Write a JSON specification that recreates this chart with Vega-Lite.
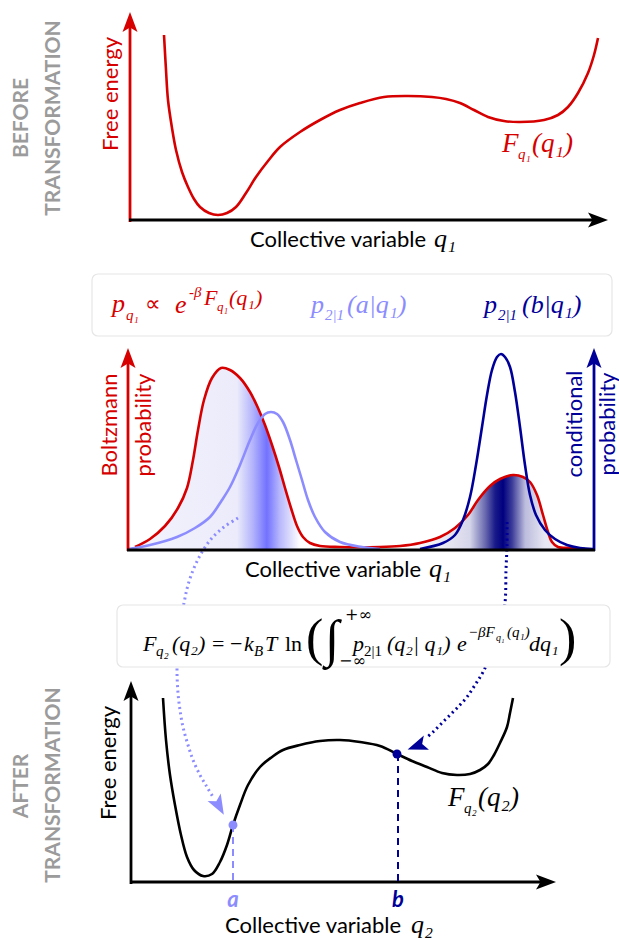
{
  "$schema": "https://vega.github.io/schema/vega-lite/v6.json",
  "width": 619,
  "height": 938,
  "autosize": {"type": "fit", "contains": "padding"},
  "padding": 0,
  "background": "white",
  "config": {"view": {"stroke": null}},
  "datasets": {
    "curves": [
      {"c":"topF","g":"boltz","i":1,"x":164,"y":35},{"c":"topF","g":"boltz","i":2,"x":166,"y":70},{"c":"topF","g":"boltz","i":3,"x":168,"y":100},{"c":"topF","g":"boltz","i":4,"x":172,"y":128},{"c":"topF","g":"boltz","i":5,"x":176,"y":150},{"c":"topF","g":"boltz","i":6,"x":182,"y":172},{"c":"topF","g":"boltz","i":7,"x":188,"y":187},{"c":"topF","g":"boltz","i":8,"x":194,"y":199},{"c":"topF","g":"boltz","i":9,"x":200,"y":207},{"c":"topF","g":"boltz","i":10,"x":209,"y":213},{"c":"topF","g":"boltz","i":11,"x":218,"y":215},{"c":"topF","g":"boltz","i":12,"x":227,"y":213},{"c":"topF","g":"boltz","i":13,"x":236,"y":207},{"c":"topF","g":"boltz","i":14,"x":246,"y":193},{"c":"topF","g":"boltz","i":15,"x":256,"y":177},{"c":"topF","g":"boltz","i":16,"x":268,"y":161},{"c":"topF","g":"boltz","i":17,"x":280,"y":147},{"c":"topF","g":"boltz","i":18,"x":300,"y":132},{"c":"topF","g":"boltz","i":19,"x":320,"y":120},{"c":"topF","g":"boltz","i":20,"x":340,"y":110},{"c":"topF","g":"boltz","i":21,"x":360,"y":103},{"c":"topF","g":"boltz","i":22,"x":384,"y":97},{"c":"topF","g":"boltz","i":23,"x":408,"y":96},{"c":"topF","g":"boltz","i":24,"x":432,"y":97},{"c":"topF","g":"boltz","i":25,"x":446,"y":99},{"c":"topF","g":"boltz","i":26,"x":460,"y":103},{"c":"topF","g":"boltz","i":27,"x":474,"y":110},{"c":"topF","g":"boltz","i":28,"x":488,"y":117},{"c":"topF","g":"boltz","i":29,"x":504,"y":121},{"c":"topF","g":"boltz","i":30,"x":520,"y":122},{"c":"topF","g":"boltz","i":31,"x":544,"y":120},{"c":"topF","g":"boltz","i":32,"x":558,"y":115},{"c":"topF","g":"boltz","i":33,"x":568,"y":107},{"c":"topF","g":"boltz","i":34,"x":578,"y":93},{"c":"topF","g":"boltz","i":35,"x":588,"y":73},{"c":"topF","g":"boltz","i":36,"x":594,"y":55},{"c":"topF","g":"boltz","i":37,"x":598,"y":38},

      {"c":"boltz","g":"boltz","i":1,"x":135,"y":547},{"c":"boltz","g":"boltz","i":2,"x":150,"y":539},{"c":"boltz","g":"boltz","i":3,"x":165,"y":526},{"c":"boltz","g":"boltz","i":4,"x":178,"y":508},{"c":"boltz","g":"boltz","i":5,"x":187,"y":488},{"c":"boltz","g":"boltz","i":6,"x":193,"y":460},{"c":"boltz","g":"boltz","i":7,"x":198,"y":430},{"c":"boltz","g":"boltz","i":8,"x":204,"y":400},{"c":"boltz","g":"boltz","i":9,"x":212,"y":378},{"c":"boltz","g":"boltz","i":10,"x":221,"y":368},{"c":"boltz","g":"boltz","i":11,"x":230,"y":370},{"c":"boltz","g":"boltz","i":12,"x":240,"y":378},{"c":"boltz","g":"boltz","i":13,"x":250,"y":392},{"c":"boltz","g":"boltz","i":14,"x":258,"y":408},{"c":"boltz","g":"boltz","i":15,"x":265,"y":425},{"c":"boltz","g":"boltz","i":16,"x":272,"y":445},{"c":"boltz","g":"boltz","i":17,"x":279,"y":467},{"c":"boltz","g":"boltz","i":18,"x":285,"y":488},{"c":"boltz","g":"boltz","i":19,"x":291,"y":508},{"c":"boltz","g":"boltz","i":20,"x":297,"y":526},{"c":"boltz","g":"boltz","i":21,"x":303,"y":537},{"c":"boltz","g":"boltz","i":22,"x":310,"y":543},{"c":"boltz","g":"boltz","i":23,"x":320,"y":546},{"c":"boltz","g":"boltz","i":24,"x":340,"y":547},{"c":"boltz","g":"boltz","i":25,"x":380,"y":547},{"c":"boltz","g":"boltz","i":26,"x":400,"y":546},{"c":"boltz","g":"boltz","i":27,"x":420,"y":543},{"c":"boltz","g":"boltz","i":28,"x":440,"y":537},{"c":"boltz","g":"boltz","i":29,"x":455,"y":528},{"c":"boltz","g":"boltz","i":30,"x":468,"y":515},{"c":"boltz","g":"boltz","i":31,"x":478,"y":500},{"c":"boltz","g":"boltz","i":32,"x":490,"y":486},{"c":"boltz","g":"boltz","i":33,"x":500,"y":479},{"c":"boltz","g":"boltz","i":34,"x":513,"y":475},{"c":"boltz","g":"boltz","i":35,"x":523,"y":477},{"c":"boltz","g":"boltz","i":36,"x":530,"y":482},{"c":"boltz","g":"boltz","i":37,"x":537,"y":495},{"c":"boltz","g":"boltz","i":38,"x":543,"y":515},{"c":"boltz","g":"boltz","i":39,"x":548,"y":532},{"c":"boltz","g":"boltz","i":40,"x":552,"y":542},{"c":"boltz","g":"boltz","i":41,"x":558,"y":547},{"c":"boltz","g":"boltz","i":42,"x":570,"y":548},{"c":"boltz","g":"boltz","i":43,"x":585,"y":549},

      {"c":"pa","g":"condA","i":1,"x":128,"y":549},{"c":"pa","g":"condA","i":2,"x":150,"y":545},{"c":"pa","g":"condA","i":3,"x":177,"y":537},{"c":"pa","g":"condA","i":4,"x":195,"y":528},{"c":"pa","g":"condA","i":5,"x":210,"y":517},{"c":"pa","g":"condA","i":6,"x":222,"y":500},{"c":"pa","g":"condA","i":7,"x":230,"y":487},{"c":"pa","g":"condA","i":8,"x":240,"y":465},{"c":"pa","g":"condA","i":9,"x":250,"y":440},{"c":"pa","g":"condA","i":10,"x":258,"y":423},{"c":"pa","g":"condA","i":11,"x":265,"y":414},{"c":"pa","g":"condA","i":12,"x":271,"y":412},{"c":"pa","g":"condA","i":13,"x":277,"y":414},{"c":"pa","g":"condA","i":14,"x":283,"y":422},{"c":"pa","g":"condA","i":15,"x":290,"y":440},{"c":"pa","g":"condA","i":16,"x":296,"y":460},{"c":"pa","g":"condA","i":17,"x":302,"y":480},{"c":"pa","g":"condA","i":18,"x":308,"y":500},{"c":"pa","g":"condA","i":19,"x":315,"y":517},{"c":"pa","g":"condA","i":20,"x":325,"y":532},{"c":"pa","g":"condA","i":21,"x":340,"y":542},{"c":"pa","g":"condA","i":22,"x":362,"y":547},{"c":"pa","g":"condA","i":23,"x":380,"y":549},

      {"c":"pb","g":"condB","i":1,"x":420,"y":549},{"c":"pb","g":"condB","i":2,"x":443,"y":543},{"c":"pb","g":"condB","i":3,"x":455,"y":535},{"c":"pb","g":"condB","i":4,"x":463,"y":520},{"c":"pb","g":"condB","i":5,"x":470,"y":497},{"c":"pb","g":"condB","i":6,"x":476,"y":465},{"c":"pb","g":"condB","i":7,"x":482,"y":427},{"c":"pb","g":"condB","i":8,"x":487,"y":395},{"c":"pb","g":"condB","i":9,"x":492,"y":370},{"c":"pb","g":"condB","i":10,"x":497,"y":357},{"c":"pb","g":"condB","i":11,"x":501,"y":354},{"c":"pb","g":"condB","i":12,"x":505,"y":357},{"c":"pb","g":"condB","i":13,"x":510,"y":367},{"c":"pb","g":"condB","i":14,"x":515,"y":392},{"c":"pb","g":"condB","i":15,"x":520,"y":427},{"c":"pb","g":"condB","i":16,"x":525,"y":465},{"c":"pb","g":"condB","i":17,"x":530,"y":495},{"c":"pb","g":"condB","i":18,"x":536,"y":515},{"c":"pb","g":"condB","i":19,"x":545,"y":530},{"c":"pb","g":"condB","i":20,"x":555,"y":539},{"c":"pb","g":"condB","i":21,"x":567,"y":545},{"c":"pb","g":"condB","i":22,"x":580,"y":548},{"c":"pb","g":"condB","i":23,"x":593,"y":549},

      {"c":"botF","g":"ink","i":1,"x":163,"y":698},{"c":"botF","g":"ink","i":2,"x":166,"y":740},{"c":"botF","g":"ink","i":3,"x":170,"y":775},{"c":"botF","g":"ink","i":4,"x":175,"y":805},{"c":"botF","g":"ink","i":5,"x":181,"y":835},{"c":"botF","g":"ink","i":6,"x":187,"y":857},{"c":"botF","g":"ink","i":7,"x":194,"y":870},{"c":"botF","g":"ink","i":8,"x":203,"y":876},{"c":"botF","g":"ink","i":9,"x":212,"y":874},{"c":"botF","g":"ink","i":10,"x":220,"y":862},{"c":"botF","g":"ink","i":11,"x":227,"y":845},{"c":"botF","g":"ink","i":12,"x":233,"y":825},{"c":"botF","g":"ink","i":13,"x":240,"y":805},{"c":"botF","g":"ink","i":14,"x":248,"y":785},{"c":"botF","g":"ink","i":15,"x":260,"y":767},{"c":"botF","g":"ink","i":16,"x":272,"y":757},{"c":"botF","g":"ink","i":17,"x":283,"y":750},{"c":"botF","g":"ink","i":18,"x":300,"y":745},{"c":"botF","g":"ink","i":19,"x":320,"y":741},{"c":"botF","g":"ink","i":20,"x":340,"y":740},{"c":"botF","g":"ink","i":21,"x":360,"y":742},{"c":"botF","g":"ink","i":22,"x":380,"y":746},{"c":"botF","g":"ink","i":23,"x":397,"y":754},{"c":"botF","g":"ink","i":24,"x":412,"y":761},{"c":"botF","g":"ink","i":25,"x":427,"y":767},{"c":"botF","g":"ink","i":26,"x":442,"y":773},{"c":"botF","g":"ink","i":27,"x":457,"y":775},{"c":"botF","g":"ink","i":28,"x":470,"y":774},{"c":"botF","g":"ink","i":29,"x":480,"y":770},{"c":"botF","g":"ink","i":30,"x":488,"y":764},{"c":"botF","g":"ink","i":31,"x":494,"y":755},{"c":"botF","g":"ink","i":32,"x":500,"y":743},{"c":"botF","g":"ink","i":33,"x":507,"y":727},{"c":"botF","g":"ink","i":34,"x":510,"y":713},{"c":"botF","g":"ink","i":35,"x":513,"y":698},

      {"c":"dotA","g":"condA","i":1,"x":238,"y":518},{"c":"dotA","g":"condA","i":2,"x":224,"y":527},{"c":"dotA","g":"condA","i":3,"x":212,"y":538},{"c":"dotA","g":"condA","i":4,"x":202,"y":552},{"c":"dotA","g":"condA","i":5,"x":194,"y":568},{"c":"dotA","g":"condA","i":6,"x":188,"y":585},{"c":"dotA","g":"condA","i":7,"x":184,"y":603},{"c":"dotA","g":"condA","i":8,"x":180,"y":625},{"c":"dotA","g":"condA","i":9,"x":178,"y":650},{"c":"dotA","g":"condA","i":10,"x":177,"y":670},{"c":"dotA","g":"condA","i":11,"x":178,"y":693},{"c":"dotA","g":"condA","i":12,"x":180,"y":710},{"c":"dotA","g":"condA","i":13,"x":183,"y":727},{"c":"dotA","g":"condA","i":14,"x":188,"y":745},{"c":"dotA","g":"condA","i":15,"x":193,"y":760},{"c":"dotA","g":"condA","i":16,"x":200,"y":775},{"c":"dotA","g":"condA","i":17,"x":207,"y":787},{"c":"dotA","g":"condA","i":18,"x":213,"y":797},

      {"c":"dotB","g":"condB","i":1,"x":507,"y":522},{"c":"dotB","g":"condB","i":2,"x":507,"y":545},{"c":"dotB","g":"condB","i":3,"x":506,"y":570},{"c":"dotB","g":"condB","i":4,"x":505,"y":603},{"c":"dotB","g":"condB","i":5,"x":500,"y":630},{"c":"dotB","g":"condB","i":6,"x":492,"y":652},{"c":"dotB","g":"condB","i":7,"x":483,"y":672},{"c":"dotB","g":"condB","i":8,"x":475,"y":685},{"c":"dotB","g":"condB","i":9,"x":467,"y":697},{"c":"dotB","g":"condB","i":10,"x":458,"y":707},{"c":"dotB","g":"condB","i":11,"x":450,"y":715},{"c":"dotB","g":"condB","i":12,"x":441,"y":724},{"c":"dotB","g":"condB","i":13,"x":433,"y":732},{"c":"dotB","g":"condB","i":14,"x":426,"y":738}
    ],
    "segments": [
      {"kind":"axis","g":"boltz","x":130,"y":222,"x2":130,"y2":26},
      {"kind":"axis","g":"ink","x":129,"y":220,"x2":598,"y2":220},
      {"kind":"axis","g":"boltz","x":128,"y":551,"x2":128,"y2":362},
      {"kind":"axis","g":"condB","x":594,"y":551,"x2":594,"y2":362},
      {"kind":"axis","g":"ink","x":127,"y":550,"x2":595,"y2":550},
      {"kind":"axis","g":"ink","x":131,"y":884,"x2":131,"y2":695},
      {"kind":"axis","g":"ink","x":130,"y":882,"x2":548,"y2":882},
      {"kind":"guide","g":"condA","x":233,"y":825,"x2":233,"y2":882},
      {"kind":"guide","g":"condB","x":398,"y":754,"x2":398,"y2":882}
    ],
    "heads": [
      {"g":"boltz","x":130,"y":22,"ang":0},
      {"g":"ink","x":598,"y":220,"ang":90},
      {"g":"boltz","x":128,"y":358,"ang":0},
      {"g":"condB","x":594,"y":358,"ang":0},
      {"g":"ink","x":131,"y":691,"ang":0},
      {"g":"ink","x":546,"y":882,"ang":90},
      {"g":"condA","x":219,"y":806,"ang":151},
      {"g":"condB","x":417,"y":746,"ang":250}
    ],
    "dots": [
      {"g":"condA","x":233,"y":825},
      {"g":"condB","x":397,"y":754}
    ],
    "boxes": [
      {"x":92,"y":274,"x2":612,"y2":336},
      {"x":117,"y":605,"x2":610,"y2":667}
    ],
    "sansH": [
      {"g":"ink","x":250,"y":247,"t":"Collective variable"},
      {"g":"ink","x":245,"y":577,"t":"Collective variable"},
      {"g":"ink","x":225,"y":933,"t":"Collective variable"}
    ],
    "sansR": [
      {"g":"boltz","x":111,"y":94,"t":"Free energy"},
      {"g":"boltz","x":110,"y":425,"t":"Boltzmann"},
      {"g":"boltz","x":144,"y":425,"t":"probability"},
      {"g":"condB","x":575,"y":424,"t":"conditional"},
      {"g":"condB","x":608,"y":424,"t":"probability"},
      {"g":"ink","x":109,"y":763,"t":"Free energy"}
    ],
    "stage": [
      {"g":"stage","x":22,"y":118,"t":"BEFORE"},
      {"g":"stage","x":54,"y":118,"t":"TRANSFORMATION"},
      {"g":"stage","x":22,"y":786,"t":"AFTER"},
      {"g":"stage","x":54,"y":785,"t":"TRANSFORMATION"}
    ],
    "ab": [
      {"g":"condA","x":233,"y":907,"t":"a"},
      {"g":"condB","x":398,"y":907,"t":"b"}
    ],
    "mathI": [
      {"g":"boltz","r":"L","x":502,"y":152,"t":"F"},
      {"g":"boltz","r":"S","x":518,"y":159,"t":"q₁"},
      {"g":"boltz","r":"L","x":532,"y":152,"t":"(q₁)"},
      {"g":"ink","r":"L","x":448,"y":806,"t":"F"},
      {"g":"ink","r":"S","x":464,"y":813,"t":"q₂"},
      {"g":"ink","r":"L","x":478,"y":806,"t":"(q₂)"},
      {"g":"ink","r":"A","x":434,"y":247,"t":"q₁"},
      {"g":"ink","r":"A","x":429,"y":577,"t":"q₁"},
      {"g":"ink","r":"A","x":411,"y":933,"t":"q₂"},
      {"g":"boltz","r":"P","x":112,"y":312,"t":"p"},
      {"g":"boltz","r":"S","x":126,"y":320,"t":"q₁"},
      {"g":"boltz","r":"P","x":175,"y":313,"t":"e"},
      {"g":"boltz","r":"S","x":189,"y":297,"t":"-β"},
      {"g":"boltz","r":"M","x":204,"y":305,"t":"F"},
      {"g":"boltz","r":"T","x":217,"y":311,"t":"q₁"},
      {"g":"boltz","r":"M","x":229,"y":305,"t":"(q₁)"},
      {"g":"condA","r":"P","x":311,"y":313,"t":"p"},
      {"g":"condA","r":"S","x":325,"y":320,"t":"2|1"},
      {"g":"condA","r":"P","x":347,"y":313,"t":"(a|q₁)"},
      {"g":"condB","r":"P","x":484,"y":313,"t":"p"},
      {"g":"condB","r":"S","x":498,"y":320,"t":"2|1"},
      {"g":"condB","r":"P","x":522,"y":313,"t":"(b|q₁)"},
      {"g":"ink","r":"M","x":143,"y":651,"t":"F"},
      {"g":"ink","r":"S","x":156,"y":656,"t":"q₂"},
      {"g":"ink","r":"M","x":172,"y":651,"t":"(q₂)"},
      {"g":"ink","r":"M","x":244,"y":651,"t":"k"},
      {"g":"ink","r":"S","x":254,"y":656,"t":"B"},
      {"g":"ink","r":"M","x":265,"y":651,"t":"T"},
      {"g":"ink","r":"M","x":353,"y":651,"t":"p"},
      {"g":"ink","r":"M","x":387,"y":651,"t":"(q₂| q₁)"},
      {"g":"ink","r":"M","x":457,"y":651,"t":"e"},
      {"g":"ink","r":"S","x":468,"y":637,"t":"−βF"},
      {"g":"ink","r":"XS","x":496,"y":641,"t":"q₁"},
      {"g":"ink","r":"S","x":507,"y":637,"t":"(q₁)"},
      {"g":"ink","r":"M","x":529,"y":651,"t":"dq₁"}
    ],
    "mathU": [
      {"g":"boltz","r":"M","x":145,"y":311,"t":"∝"},
      {"g":"ink","r":"M","x":212,"y":651,"t":"="},
      {"g":"ink","r":"M","x":230,"y":651,"t":"−"},
      {"g":"ink","r":"M","x":285,"y":651,"t":"ln"},
      {"g":"ink","r":"big","x":306,"y":655,"t":"("},
      {"g":"ink","r":"int","x":325,"y":656,"t":"∫"},
      {"g":"ink","r":"I","x":345,"y":620,"t":"+∞"},
      {"g":"ink","r":"I","x":339,"y":666,"t":"−∞"},
      {"g":"ink","r":"S","x":364,"y":656,"t":"2|1"},
      {"g":"ink","r":"big","x":559,"y":655,"t":")"}
    ]
  },
  "encoding": {
    "x": {"field": "x", "type": "quantitative", "scale": {"domain": [0, 619], "nice": false, "zero": false}, "axis": null},
    "y": {"field": "y", "type": "quantitative", "scale": {"domain": [0, 938], "reverse": true, "nice": false, "zero": false}, "axis": null}
  },
  "layer": [
    {
      "data": {"name": "curves"},
      "transform": [{"filter": "datum.c === 'boltz'"}],
      "mark": {
        "type": "area",
        "interpolate": "catmull-rom",
        "opacity": 1,
        "fill": {
          "gradient": "linear", "x1": 0, "y1": 0, "x2": 1, "y2": 0,
          "stops": [
            {"offset": 0, "color": "#f3f3fd"},
            {"offset": 0.227, "color": "#ebebfb"},
            {"offset": 0.262, "color": "#b3b3fc"},
            {"offset": 0.293, "color": "#7272ff"},
            {"offset": 0.322, "color": "#b8b8fc"},
            {"offset": 0.367, "color": "#ffffff"},
            {"offset": 0.589, "color": "#ffffff"},
            {"offset": 0.662, "color": "#f1f1f8"},
            {"offset": 0.744, "color": "#d6d6ea"},
            {"offset": 0.778, "color": "#6a6ab0"},
            {"offset": 0.8, "color": "#1a1a8a"},
            {"offset": 0.818, "color": "#000080"},
            {"offset": 0.838, "color": "#3c3c9a"},
            {"offset": 0.867, "color": "#bcbcdd"},
            {"offset": 0.911, "color": "#e7e7f3"},
            {"offset": 1, "color": "#f1f1f8"}
          ]
        }
      },
      "encoding": {"y2": {"datum": 550}}
    },
    {
      "data": {"name": "curves"},
      "transform": [{"filter": "datum.c === 'dotA' || datum.c === 'dotB'"}],
      "mark": {"type": "line", "interpolate": "catmull-rom", "strokeWidth": 3, "strokeDash": [2, 3.5]},
      "encoding": {
        "detail": {"field": "c"},
        "order": {"field": "i", "type": "quantitative"},
        "color": {"field": "g", "type": "nominal", "legend": null, "scale": {"domain": ["boltz", "condA", "condB", "ink", "stage"], "range": ["#d60000", "#8c8cff", "#000099", "#000000", "#9b9b9b"]}}
      }
    },
    {
      "data": {"name": "boxes"},
      "mark": {"type": "rect", "fill": "#dcdcdc", "cornerRadius": 6, "xOffset": 2, "yOffset": 3},
      "encoding": {"x2": {"field": "x2"}, "y2": {"field": "y2"}}
    },
    {
      "data": {"name": "boxes"},
      "mark": {"type": "rect", "fill": "#ffffff", "stroke": "#e6e6e6", "strokeWidth": 1.2, "cornerRadius": 6},
      "encoding": {"x2": {"field": "x2"}, "y2": {"field": "y2"}}
    },
    {
      "data": {"name": "curves"},
      "transform": [{"filter": "datum.c !== 'dotA' && datum.c !== 'dotB'"}],
      "mark": {"type": "line", "interpolate": "catmull-rom", "strokeWidth": 2.6},
      "encoding": {
        "detail": {"field": "c"},
        "order": {"field": "i", "type": "quantitative"},
        "color": {"field": "g", "type": "nominal", "legend": null}
      }
    },
    {
      "data": {"name": "segments"},
      "transform": [{"filter": "datum.kind === 'axis'"}],
      "mark": {"type": "rule", "strokeWidth": 2.8},
      "encoding": {
        "x2": {"field": "x2"}, "y2": {"field": "y2"},
        "color": {"field": "g", "type": "nominal", "legend": null}
      }
    },
    {
      "data": {"name": "segments"},
      "transform": [{"filter": "datum.kind === 'guide'"}],
      "mark": {"type": "rule", "strokeWidth": 2, "strokeDash": [7, 5]},
      "encoding": {
        "x2": {"field": "x2"}, "y2": {"field": "y2"},
        "color": {"field": "g", "type": "nominal", "legend": null}
      }
    },
    {
      "data": {"name": "heads"},
      "mark": {"type": "point", "shape": "M0,-1L0.75,1L0,0.55L-0.75,1Z", "filled": true, "opacity": 1, "size": 400, "strokeWidth": 0},
      "encoding": {
        "angle": {"field": "ang", "type": "quantitative", "scale": null},
        "color": {"field": "g", "type": "nominal", "legend": null}
      }
    },
    {
      "data": {"name": "dots"},
      "mark": {"type": "point", "shape": "circle", "filled": true, "opacity": 1, "size": 80},
      "encoding": {"color": {"field": "g", "type": "nominal", "legend": null}}
    },
    {
      "data": {"name": "sansH"},
      "mark": {"type": "text", "font": "Lato", "fontSize": 22, "align": "left", "baseline": "alphabetic"},
      "encoding": {"text": {"field": "t"}, "color": {"field": "g", "type": "nominal", "legend": null}}
    },
    {
      "data": {"name": "sansR"},
      "mark": {"type": "text", "font": "Lato", "fontSize": 22, "angle": 270, "align": "center", "baseline": "middle"},
      "encoding": {"text": {"field": "t"}, "color": {"field": "g", "type": "nominal", "legend": null}}
    },
    {
      "data": {"name": "stage"},
      "mark": {"type": "text", "font": "Lato", "fontSize": 21, "fontWeight": "bold", "angle": 270, "align": "center", "baseline": "middle"},
      "encoding": {"text": {"field": "t"}, "color": {"field": "g", "type": "nominal", "legend": null}}
    },
    {
      "data": {"name": "ab"},
      "mark": {"type": "text", "font": "Lato", "fontSize": 22, "fontWeight": "bold", "fontStyle": "italic", "align": "center", "baseline": "alphabetic"},
      "encoding": {"text": {"field": "t"}, "color": {"field": "g", "type": "nominal", "legend": null}}
    },
    {"data": {"name": "mathI"}, "transform": [{"filter": "datum.r === 'L'"}],
     "mark": {"type": "text", "font": "Liberation Serif", "fontStyle": "italic", "fontSize": 27, "align": "left", "baseline": "alphabetic"},
     "encoding": {"text": {"field": "t"}, "color": {"field": "g", "type": "nominal", "legend": null}}},
    {"data": {"name": "mathI"}, "transform": [{"filter": "datum.r === 'P'"}],
     "mark": {"type": "text", "font": "Liberation Serif", "fontStyle": "italic", "fontSize": 26, "align": "left", "baseline": "alphabetic"},
     "encoding": {"text": {"field": "t"}, "color": {"field": "g", "type": "nominal", "legend": null}}},
    {"data": {"name": "mathI"}, "transform": [{"filter": "datum.r === 'A'"}],
     "mark": {"type": "text", "font": "Liberation Serif", "fontStyle": "italic", "fontSize": 26, "align": "left", "baseline": "alphabetic"},
     "encoding": {"text": {"field": "t"}, "color": {"field": "g", "type": "nominal", "legend": null}}},
    {"data": {"name": "mathI"}, "transform": [{"filter": "datum.r === 'M'"}],
     "mark": {"type": "text", "font": "Liberation Serif", "fontStyle": "italic", "fontSize": 22, "align": "left", "baseline": "alphabetic"},
     "encoding": {"text": {"field": "t"}, "color": {"field": "g", "type": "nominal", "legend": null}}},
    {"data": {"name": "mathI"}, "transform": [{"filter": "datum.r === 'S'"}],
     "mark": {"type": "text", "font": "Liberation Serif", "fontStyle": "italic", "fontSize": 15, "align": "left", "baseline": "alphabetic"},
     "encoding": {"text": {"field": "t"}, "color": {"field": "g", "type": "nominal", "legend": null}}},
    {"data": {"name": "mathI"}, "transform": [{"filter": "datum.r === 'T'"}],
     "mark": {"type": "text", "font": "Liberation Serif", "fontStyle": "italic", "fontSize": 13, "align": "left", "baseline": "alphabetic"},
     "encoding": {"text": {"field": "t"}, "color": {"field": "g", "type": "nominal", "legend": null}}},
    {"data": {"name": "mathI"}, "transform": [{"filter": "datum.r === 'XS'"}],
     "mark": {"type": "text", "font": "Liberation Serif", "fontStyle": "italic", "fontSize": 10, "align": "left", "baseline": "alphabetic"},
     "encoding": {"text": {"field": "t"}, "color": {"field": "g", "type": "nominal", "legend": null}}},
    {"data": {"name": "mathU"}, "transform": [{"filter": "datum.r === 'big'"}],
     "mark": {"type": "text", "font": "Liberation Serif", "fontSize": 52, "align": "left", "baseline": "alphabetic"},
     "encoding": {"text": {"field": "t"}, "color": {"field": "g", "type": "nominal", "legend": null}}},
    {"data": {"name": "mathU"}, "transform": [{"filter": "datum.r === 'int'"}],
     "mark": {"type": "text", "font": "Liberation Serif", "fontSize": 52, "align": "left", "baseline": "alphabetic"},
     "encoding": {"text": {"field": "t"}, "color": {"field": "g", "type": "nominal", "legend": null}}},
    {"data": {"name": "mathU"}, "transform": [{"filter": "datum.r === 'M'"}],
     "mark": {"type": "text", "font": "Liberation Serif", "fontSize": 22, "align": "left", "baseline": "alphabetic"},
     "encoding": {"text": {"field": "t"}, "color": {"field": "g", "type": "nominal", "legend": null}}},
    {"data": {"name": "mathU"}, "transform": [{"filter": "datum.r === 'I'"}],
     "mark": {"type": "text", "font": "DejaVu Serif", "fontSize": 16, "align": "left", "baseline": "alphabetic"},
     "encoding": {"text": {"field": "t"}, "color": {"field": "g", "type": "nominal", "legend": null}}},
    {"data": {"name": "mathU"}, "transform": [{"filter": "datum.r === 'S'"}],
     "mark": {"type": "text", "font": "Liberation Serif", "fontSize": 15, "align": "left", "baseline": "alphabetic"},
     "encoding": {"text": {"field": "t"}, "color": {"field": "g", "type": "nominal", "legend": null}}}
  ]
}
